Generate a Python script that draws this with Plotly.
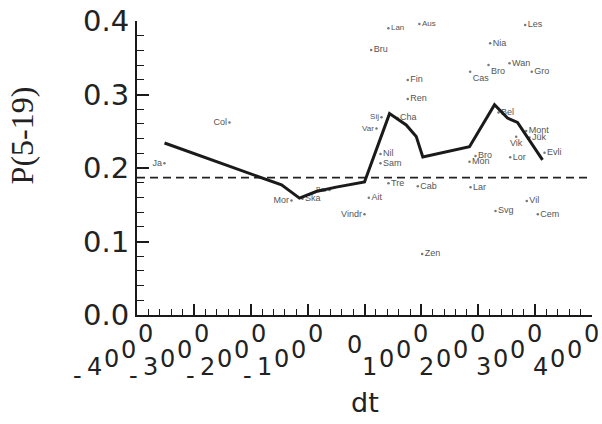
import plotly.graph_objects as go

# ---------------- data ----------------
dt_ticks = [-4000, -3000, -2000, -1000, 0, 1000, 2000, 3000, 4000]
dt_tick_labels = ["-4000", "-3000", "-2000", "-1000", "0", "1000", "2000", "3000", "4000"]
p_ticks = [0.0, 0.1, 0.2, 0.3, 0.4]
p_tick_labels = ["0.0", "0.1", "0.2", "0.3", "0.4"]

trend_dt = [-3516, -1459, -1143, -849, -498, 0, 440, 733, 909, 1025, 1846, 2286, 2514, 2690, 3130]
trend_p = [0.234, 0.177, 0.159, 0.168, 0.174, 0.181, 0.274, 0.2585, 0.243, 0.215, 0.229, 0.286, 0.268, 0.262, 0.211]

ref_dt = [-4000, 4000]
ref_p = [0.187, 0.187]

site_names = ["Lan", "Aus", "Bru", "Les", "Nia", "Wan", "Cas", "Bro", "Gro", "Fin",
              "Ren", "Sij", "Var", "Cha", "Bel", "Mont", "Jük", "Vik", "Evli", "Lor",
              "Bro", "Mon", "Cab", "Lar", "Nil", "Sam", "Tre", "Ait", "Vindr", "Zen",
              "Vil", "Svg", "Cem", "Ska", "Bar", "Mor", "Col", "Ja"]
site_dt = [420, 965, 118, 2825, 2210, 2549, 1858, 2180, 2941, 761,
           761, 299, 211, 580, 2356, 2843, 2901, 2667, 3165, 2562,
           1952, 1846, 937, 1864, 281, 281, 422, 76, 0, 1014,
           2853, 2303, 3047, -1090, -616, -1284, -2374, -3517]
site_p = [0.390, 0.396, 0.3605, 0.3946, 0.3697, 0.3424, 0.331, 0.340, 0.331, 0.3197,
          0.2939, 0.269, 0.2537, 0.268, 0.2755, 0.2503, 0.2415, 0.2426, 0.2208, 0.2146,
          0.2163, 0.2086, 0.1751, 0.1737, 0.219, 0.2064, 0.1792, 0.1596, 0.137, 0.083,
          0.155, 0.1415, 0.137, 0.158, 0.170, 0.1558, 0.262, 0.2064]

# label placement and size (style only)
site_label_side = ["middle right", "middle right", "middle right", "middle right", "middle right",
                   "middle right", "bottom right", "bottom right", "middle right", "middle right",
                   "middle right", "middle left", "middle left", "middle right", "middle right",
                   "middle right", "middle right", "bottom center", "middle right", "middle right",
                   "middle right", "middle right", "middle right", "middle right", "middle right",
                   "middle right", "middle right", "middle right", "middle left", "middle right",
                   "middle right", "middle right", "middle right", "middle right", "middle left",
                   "middle left", "middle left", "middle left"]
site_label_size = [8, 8, 9, 9, 9, 9, 9, 9, 9, 9,
                   9, 8, 8, 9, 9, 9, 9, 9, 9, 9,
                   9, 9, 9, 9, 9, 9, 9, 9, 9, 9,
                   9, 9, 9, 9, 7, 9, 9, 9]

# ---------------- figure ----------------
fig = go.Figure()

fig.add_trace(go.Scatter(
    x=site_dt, y=site_p, mode="markers+text", text=site_names,
    textposition=site_label_side,
    textfont=dict(family="Liberation Sans", size=site_label_size, color="#555555"),
    marker=dict(size=2.5, color="#777777"),
    cliponaxis=False, showlegend=False, hoverinfo="skip"))

fig.add_trace(go.Scatter(
    x=ref_dt, y=ref_p, mode="lines",
    line=dict(color="#222222", width=1.8, dash="8px,5px"),
    showlegend=False, hoverinfo="skip"))

fig.add_trace(go.Scatter(
    x=trend_dt, y=trend_p, mode="lines",
    line=dict(color="#1a1a1a", width=3),
    showlegend=False, hoverinfo="skip"))


def char_layout(label):
    n = len(label)
    center = -10 if n == 1 else -26
    out = []
    for i, ch in enumerate(label):
        dx = center + (i - (n - 1) / 2) * 17
        k = n - 1 - i
        if n == 1:
            dy = 30
        elif k == 0:
            dy = 19
        else:
            dy = 35 + 8.5 * (k - 1)
        out.append((ch, dx, dy))
    return out


annotations = []
for val, lab in zip(dt_ticks, dt_tick_labels):
    for ch, dx, dy in char_layout(lab):
        annotations.append(dict(
            x=val, xref="x", y=0, yref="paper", text=ch, showarrow=False,
            xshift=dx, yshift=-dy, xanchor="center", yanchor="middle",
            font=dict(family="DejaVu Sans", size=24, color="#222222")))

annotations.append(dict(
    x=0, xref="x", y=0, yref="paper", text="dt", showarrow=False,
    yshift=-87, xanchor="center", yanchor="middle",
    font=dict(family="DejaVu Sans", size=27, color="#222222")))

annotations.append(dict(
    x=-0.252, xref="paper", y=0.612, yref="paper", text="P(5-19)", showarrow=False,
    textangle=-90, xanchor="center", yanchor="middle",
    font=dict(family="Liberation Serif", size=32, color="#222222")))

fig.update_layout(
    width=602, height=424,
    margin=dict(l=137, r=10, t=21, b=109, autoexpand=False),
    paper_bgcolor="white", plot_bgcolor="white",
    annotations=annotations,
    xaxis=dict(
        range=[-4000, 4000], showgrid=False, zeroline=False, automargin=False,
        showline=True, linecolor="#1a1a1a", linewidth=2,
        tickmode="array", tickvals=dt_ticks, showticklabels=False,
        ticks="inside", ticklen=11, tickwidth=1.5, tickcolor="#1a1a1a",
        minor=dict(ticks="inside", ticklen=6, tickwidth=1.2, tickcolor="#1a1a1a",
                   tick0=-4000, dtick=200, showgrid=False)),
    yaxis=dict(
        range=[0, 0.4], showgrid=False, zeroline=False, automargin=False,
        showline=True, linecolor="#1a1a1a", linewidth=2,
        tickmode="array", tickvals=p_ticks, ticktext=p_tick_labels,
        ticklabeloverflow="allow",
        ticks="inside", ticklen=12, tickwidth=1.5, tickcolor="#1a1a1a",
        tickfont=dict(family="DejaVu Sans", size=29, color="#222222"),
        minor=dict(ticks="inside", ticklen=7, tickwidth=1.2, tickcolor="#1a1a1a",
                   tick0=0, dtick=0.02, showgrid=False)),
)

fig.write_html("out.html", config={"displayModeBar": False},
               post_script="document.body.style.margin='0';")
